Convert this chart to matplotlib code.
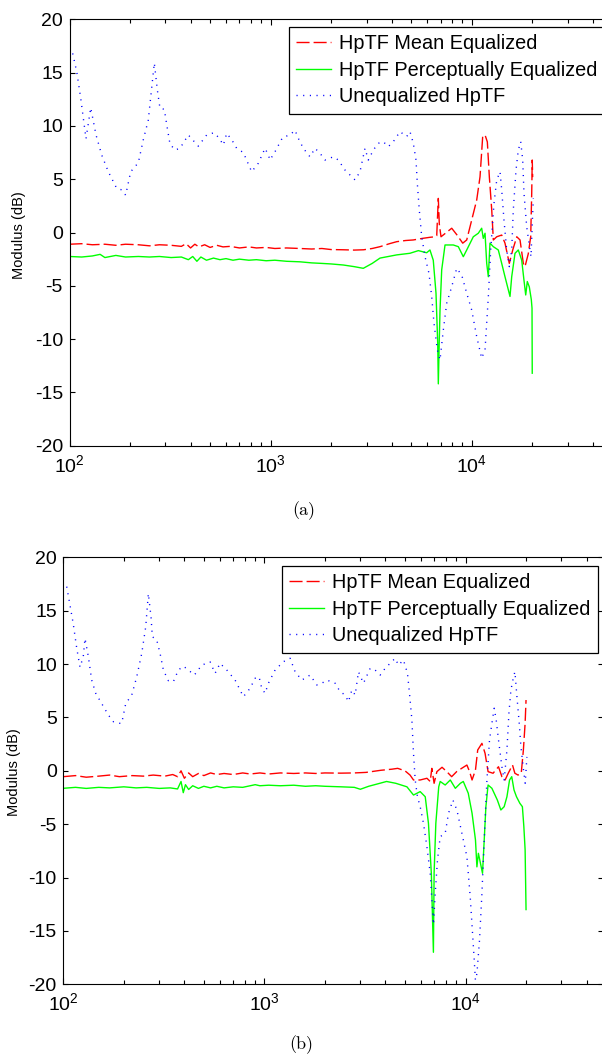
import matplotlib
matplotlib.use('Agg')
import matplotlib.pyplot as plt
from matplotlib.ticker import FixedLocator, LogLocator, NullFormatter

# ---------------- data: panel (a) ----------------
fa_red = [100, 115, 130, 150, 170, 190, 220, 250, 280, 320, 360, 380, 400, 420, 440, 470,
          500, 540, 580, 630, 700, 780, 850, 950, 1050, 1200, 1400, 1600, 1800, 2000, 2300,
          2600, 2900, 3200, 3500, 3900, 4240, 4700, 5120, 5700, 6200, 6570, 6700, 6823, 6900,
          7037, 7368, 7955, 8424, 9024, 9446, 10000, 10590, 11000, 11340, 11650, 11960, 12240,
          12580, 12810, 13320, 14100, 14640, 15380, 16000, 16750, 17390, 18060, 18410, 19110,
          19650, 19880, 20000, 20100]
va_red = [-1.10, -1.05, -1.15, -1.10, -1.20, -1.10, -1.15, -1.25, -1.15, -1.20, -1.30, -1.05,
          -1.45, -1.10, -1.35, -1.15, -1.40, -1.20, -1.35, -1.30, -1.45, -1.35, -1.45, -1.40,
          -1.50, -1.45, -1.50, -1.55, -1.50, -1.60, -1.62, -1.65, -1.62, -1.50, -1.33, -1.05,
          -0.86, -0.75, -0.70, -0.55, -0.45, -0.40, -0.30, 3.20, 0.80, -0.40, -0.10, 0.40,
          -0.20, -1.00, -0.70, 1.17, 3.05, 5.23, 9.00, 9.15, 8.50, 5.20, 2.10, -0.70, -0.40,
          -0.24, -1.00, -2.90, -1.64, -0.40, -0.70, -2.90, -3.20, -2.00, -0.40, 3.67, 6.80, 5.20]

fa_green = [100, 115, 130, 142, 150, 170, 190, 220, 250, 280, 320, 360, 390, 410, 430, 450,
            480, 520, 560, 600, 650, 700, 780, 850, 950, 1050, 1200, 1400, 1600, 1800, 2000,
            2300, 2600, 2890, 3200, 3500, 4240, 4930, 5430, 5970, 6200, 6440, 6645, 6776, 6823,
            6900, 6957, 7093, 7368, 8100, 8580, 9083, 9446, 10185, 10785, 11210, 11418, 11650,
            11875, 12095, 12330, 12810, 13560, 14100, 14640, 15505, 15810, 16420, 17050, 17730,
            18200, 18560, 18900, 19340, 19790, 19950, 20000]
va_green = [-2.25, -2.30, -2.20, -2.05, -2.35, -2.15, -2.30, -2.25, -2.30, -2.25, -2.35, -2.30,
            -2.55, -2.25, -2.70, -2.30, -2.60, -2.40, -2.55, -2.45, -2.60, -2.50, -2.60, -2.55,
            -2.65, -2.60, -2.70, -2.75, -2.85, -2.90, -2.95, -3.05, -3.20, -3.36, -2.90, -2.40,
            -2.10, -1.95, -1.70, -1.90, -1.64, -2.60, -5.70, -10.40, -14.20, -10.00, -7.30,
            -3.50, -1.17, -1.17, -1.33, -2.27, -1.64, -0.40, -0.07, 0.40, -0.55, -0.07, -2.90,
            -4.15, -1.00, -1.33, -1.64, -2.90, -4.15, -6.00, -4.15, -1.95, -1.64, -2.60, -4.50,
            -5.86, -4.60, -5.10, -6.30, -7.10, -13.20]

fa_blue = [103.7, 108.6, 113.7, 120.8, 127.5, 135.5, 144.6, 156, 171.6, 181.8, 190.2, 201.5,
           219.9, 232.8, 246.5, 264.1, 273.3, 281.8, 296, 306.5, 316, 334.7, 354.4, 389.8, 437,
           481, 523, 556, 582, 605, 641, 678, 732, 805, 869, 938, 974, 993, 1052, 1148, 1249,
           1322, 1373, 1454, 1570, 1663, 1761, 1865, 2051, 2172, 2344, 2629, 2783, 2947, 3062,
           3243, 3432, 3634, 3848, 4075, 4400, 4750, 4934, 5124, 5285, 5365, 5488, 5642, 5859,
           6131, 6324, 6493, 6745, 6957, 7225, 7511, 7955, 8424, 8921, 9446, 10000, 10590,
           11210, 11650, 12100, 12430, 12910, 13320, 13830, 14100, 14470, 14930, 15380, 15810,
           16100, 16610, 17050, 17530, 17930, 18200, 18770, 19280, 19720, 20010, 20250]
va_blue = [16.8, 15.1, 12.6, 8.8, 11.7, 9.15, 7.27, 5.7, 4.15, 4.0, 3.5, 5.7, 6.55, 8.7, 10.55,
           15.9, 13.4, 11.65, 11.56, 9.78, 8.3, 7.74, 7.9, 9.15, 8.1, 9.15, 9.36, 8.84, 8.2, 9.3,
           8.7, 7.9, 7.5, 5.7, 6.5, 7.9, 7.27, 6.8, 7.58, 8.93, 9.15, 9.6, 8.84, 7.9, 7.1, 7.9,
           7.43, 6.8, 7.1, 6.8, 5.86, 4.93, 5.7, 7.9, 6.8, 7.74, 8.37, 8.52, 8.05, 8.52, 9.46,
           9.0, 9.46, 8.37, 6.8, 4.6, 2.1, -0.4, -2.27, -3.83, -6.0, -8.5, -11.0, -11.96, -9.15,
           -6.64, -5.08, -3.36, -4.0, -5.7, -7.27, -9.77, -11.8, -11.0, -6.0, -1.64, 2.74, 4.93,
           5.7, 4.0, 1.17, -1.64, -3.2, -1.64, 2.1, 5.86, 7.74, 8.52, 6.8, 3.67, 0.54, -1.0,
           -2.27, 0.86, 3.2]

# ---------------- data: panel (b) ----------------
fb_red = [100, 115, 130, 150, 170, 190, 220, 250, 280, 320, 350, 370, 385, 400, 420, 440, 470,
          500, 540, 580, 630, 700, 780, 850, 950, 1050, 1200, 1400, 1600, 1800, 2000, 2400,
          2800, 3200, 3800, 4300, 4600, 5000, 5300, 5513, 5950, 6430, 6675, 6800, 6980, 7206,
          7644, 8070, 8534, 9034, 9570, 10160, 10480, 10780, 11210, 11500, 12068, 12510, 12950,
          13710, 14590, 15170, 15740, 16310, 17130, 17600, 18250, 18930, 19400, 19790, 20000]
vb_red = [-0.55, -0.45, -0.60, -0.50, -0.40, -0.55, -0.45, -0.50, -0.40, -0.50, -0.35, -0.55,
          0.00, -0.70, -0.20, -0.55, -0.25, -0.45, -0.20, -0.35, -0.25, -0.35, -0.20, -0.30,
          -0.20, -0.30, -0.20, -0.25, -0.20, -0.25, -0.20, -0.22, -0.20, -0.15, 0.05, 0.15,
          0.23, 0.00, -0.40, -0.86, -0.86, -0.70, -1.00, 0.23, -1.17, -0.08, 0.33, -0.08, -0.55,
          -0.08, 0.23, 0.54, -0.08, -0.86, 0.08, 1.95, 2.57, 1.64, -0.08, -0.23, 0.38, -0.55,
          -0.86, -0.23, 0.54, -0.23, -0.40, -0.23, 1.95, 4.45, 6.63]

fb_green = [100, 115, 130, 150, 170, 200, 230, 260, 300, 340, 370, 385, 395, 405, 420, 440, 470,
            500, 540, 580, 630, 700, 780, 850, 900, 950, 1050, 1200, 1400, 1600, 1800, 2000, 2400,
            2800, 3000, 3300, 3700, 4050, 4500, 5114, 5513, 5951, 6306, 6543, 6762, 6925, 6980,
            7120, 7360, 7484, 7925, 8400, 8900, 9430, 9750, 10320, 10780, 11210, 11395, 11590,
            11790, 12150, 12390, 12630, 12950, 13530, 14400, 14990, 15570, 16070, 16560, 16980,
            17430, 17930, 18640, 19180, 19500, 19790, 20000]
vb_green = [-1.64, -1.55, -1.65, -1.55, -1.60, -1.50, -1.60, -1.55, -1.65, -1.60, -1.70, -1.00,
            -2.05, -1.30, -1.75, -1.40, -1.65, -1.45, -1.60, -1.45, -1.60, -1.50, -1.55, -1.40,
            -1.30, -1.40, -1.35, -1.40, -1.35, -1.45, -1.40, -1.45, -1.50, -1.55, -1.73, -1.45,
            -1.20, -1.00, -1.17, -1.50, -2.27, -1.95, -2.43, -4.92, -9.60, -17.00, -9.60, -4.92,
            -1.50, -1.00, -1.33, -0.86, -1.64, -1.17, -1.00, -2.10, -3.98, -6.48, -9.00, -7.73,
            -8.40, -9.60, -6.48, -3.36, -1.33, -1.64, -2.74, -3.67, -3.36, -2.43, -0.86, -0.55,
            -1.80, -2.43, -3.05, -3.36, -5.20, -7.40, -13.00]

fb_blue = [104, 108, 112, 116.6, 121.1, 125.7, 128.2, 133.2, 138.4, 145, 155.2, 167.5, 177.4,
           187.8, 195.2, 204.4, 219, 231.8, 245.5, 257, 264.8, 273.1, 277.2, 291.5, 302.8, 314.5,
           333, 352.6, 373.4, 395.5, 418.7, 448.5, 488.2, 537, 568.5, 602, 650, 715, 786, 849,
           899, 941, 970, 1008, 1047, 1130, 1243, 1342, 1421, 1535, 1688, 1823, 1930, 2044, 2248,
           2380, 2521, 2618, 2722, 2827, 2936, 3109, 3357, 3554, 3764, 3985, 4220, 4469, 4642,
           4914, 5146, 5265, 5413, 5513, 5622, 5768, 5951, 6180, 6427, 6675, 6930, 7068, 7256,
           7484, 7925, 8233, 8656, 9062, 9596, 10162, 10554, 11050, 11200, 11395, 11742, 12068,
           12390, 12780, 13165, 13530, 13890, 14210, 14590, 15170, 15570, 16070, 16440, 16820,
           17330, 17610, 18020, 18500, 18860, 19430, 19810, 20200]
vb_blue = [17.25, 15.5, 13.8, 11.5, 9.7, 10.7, 12.4, 10.7, 8.5, 7.26, 6.3, 5.23, 4.6, 4.45, 4.45,
           6.3, 7.1, 8.8, 11.0, 13.5, 16.6, 14.4, 12.56, 12.25, 11.0, 9.44, 8.44, 8.35, 9.44, 9.8,
           9.44, 8.97, 9.9, 10.2, 9.13, 10.07, 9.44, 8.5, 6.94, 7.73, 8.67, 8.8, 7.73, 7.26, 8.2,
           9.44, 10.22, 10.54, 9.28, 8.5, 8.97, 8.04, 8.2, 8.5, 8.2, 7.41, 7.1, 6.47, 7.57, 7.1,
           9.28, 8.2, 9.6, 9.44, 8.97, 9.6, 10.07, 10.54, 9.9, 10.38, 9.13, 7.26, 4.76, 1.64,
           -0.86, -2.43, -3.36, -4.92, -7.1, -9.6, -14.4, -11.5, -8.36, -6.17, -5.86, -3.98,
           -2.74, -3.67, -5.86, -8.05, -11.8, -17.7, -19.6, -19.0, -15.85, -11.5, -6.48, -0.86,
           2.9, 4.45, 5.86, 4.76, 2.9, 0.38, -0.86, 1.95, 5.4, 7.57, 8.8, 9.28, 6.94, 4.45, 2.26,
           0.08, -1.17, 1.3]

series_labels = ['HpTF Mean Equalized', 'HpTF Perceptually Equalized', 'Unequalized HpTF']
y_ticks = [-20, -15, -10, -5, 0, 5, 10, 15, 20]
x_major = [100, 1000, 10000]
x_limits = (100, 48000)
y_limits = (-20, 20)

# ---------------- style ----------------
plt.rcParams['font.family'] = ['Liberation Sans', 'DejaVu Sans']
plt.rcParams['axes.unicode_minus'] = False
plt.rcParams['lines.scale_dashes'] = False
plt.rcParams['mathtext.fontset'] = 'custom'
plt.rcParams['mathtext.rm'] = 'Liberation Sans'
plt.rcParams['mathtext.it'] = 'Liberation Sans'
plt.rcParams['mathtext.default'] = 'regular'

W, H = 602, 1059
fig = plt.figure(figsize=(W / 100, H / 100), dpi=100)
fig.patch.set_facecolor('white')


def px_axes(left, top, right, bottom):
    return fig.add_axes([left / W, 1 - bottom / H, (right - left) / W, (bottom - top) / H])


def draw(ax, fr, vr, fg, vg, fbl, vbl, anchor):
    ax.plot(fr, vr, color=(1, 0, 0), lw=1.0, dashes=(9.4, 2.9), label=series_labels[0])
    ax.plot(fg, vg, color=(0, 1, 0), lw=1.0, label=series_labels[1])
    ax.plot(fbl, vbl, color=(0, 0, 1), lw=1.0, dashes=(0.8, 4.0), label=series_labels[2])
    ax.set_xscale('log')
    ax.set_xlim(*x_limits)
    ax.set_ylim(*y_limits)
    ax.set_yticks(y_ticks)
    ax.set_yticklabels([str(t) for t in y_ticks])
    ax.xaxis.set_major_locator(FixedLocator(x_major))
    ax.xaxis.set_minor_locator(LogLocator(base=10, subs=range(2, 10), numticks=20))
    ax.xaxis.set_minor_formatter(NullFormatter())
    ax.tick_params(which='both', direction='in', top=True, right=True, colors='black',
                   labelsize=14, width=0.8)
    ax.tick_params(axis='x', which='major', length=4.6, pad=6)
    ax.tick_params(axis='x', which='minor', length=2.9)
    ax.tick_params(axis='y', which='major', length=3.6, pad=4.7)
    for s in ax.spines.values():
        s.set_linewidth(0.8)
        s.set_color('black')
    leg = ax.legend(loc='upper right', bbox_to_anchor=anchor, borderaxespad=0,
                    fontsize=14.3, frameon=True, fancybox=False, framealpha=1,
                    edgecolor='black', handlelength=1.75, handletextpad=0.4,
                    borderpad=0.36, labelspacing=0.39)
    leg.get_frame().set_linewidth(0.9)


axa = px_axes(69.5, 19.3, 608.7, 445.7)
draw(axa, fa_red, va_red, fa_green, va_green, fa_blue, va_blue, (0.9925, 0.9826))
axb = px_axes(63.3, 557.3, 602.5, 984.3)
draw(axb, fb_red, vb_red, fb_green, vb_green, fb_blue, vb_blue, (0.9911, 0.9803))

fig.text(19 / W, 1 - 235 / H, 'Modulus (dB)', rotation=90, ha='center', va='center',
         fontsize=10.5)
fig.text(14 / W, 1 - 772 / H, 'Modulus (dB)', rotation=90, ha='center', va='center',
         fontsize=10.5)
fig.text(304 / W, 1 - 511 / H, '(a)', ha='center', va='center', fontsize=13,
         family='cmr10')
fig.text(301 / W, 1 - 1045 / H, '(b)', ha='center', va='center', fontsize=13,
         family='cmr10')

fig.savefig('out.png', dpi=100, facecolor='white')
